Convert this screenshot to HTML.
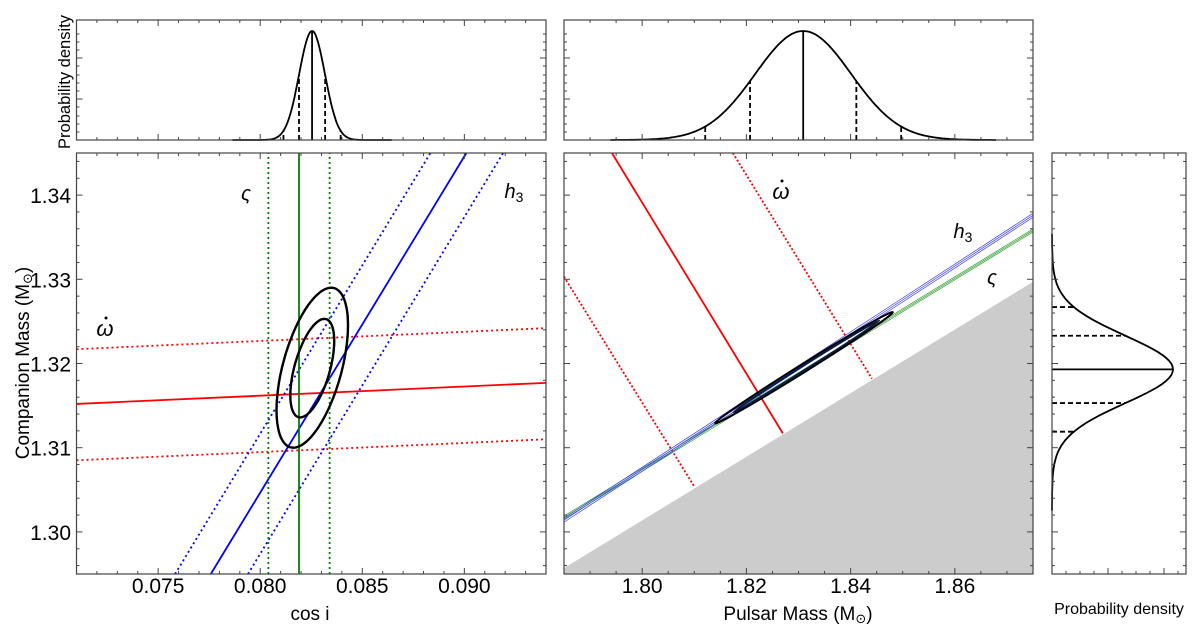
<!DOCTYPE html>
<html><head><meta charset="utf-8">
<style>
html,body{margin:0;padding:0;background:#fff;}
svg{display:block;font-family:"Liberation Sans","DejaVu Sans",sans-serif;}
</style></head>
<body>
<svg id="fig" width="1200" height="628" viewBox="0 0 1200 628" xmlns="http://www.w3.org/2000/svg">
</svg>
<script>
// ---- data ----
const leftXTicks = [0.075, 0.080, 0.085, 0.090];
const leftXTickLabels = ["0.075", "0.080", "0.085", "0.090"];
const yTicks = [1.30, 1.31, 1.32, 1.33, 1.34];
const yTickLabels = ["1.30", "1.31", "1.32", "1.33", "1.34"];
const rightXTicks = [1.80, 1.82, 1.84, 1.86];
const rightXTickLabels = ["1.80", "1.82", "1.84", "1.86"];
// left panel constraint lines [x1,y1,x2,y2] in data coordinates
const omdotCosi = [[0.071,1.3152,0.094,1.3177]];
const omdotCosiErr = [[0.071,1.3217,0.094,1.3242],[0.071,1.3085,0.094,1.3110]];
const h3Cosi = [[0.07758,1.295,0.0901,1.345]];
const h3CosiErr = [[0.07583,1.295,0.08834,1.345],[0.0794,1.295,0.0919,1.345]];
const zetaCosi = [0.0819];
const zetaCosiErr = [0.0804, 0.0834];
// left panel contours: cx, cy, sx, sy, rho
const contourCx = [0.08255, 0.08255];
const contourCy = [1.3195, 1.31945];
const contourSx = [0.00175, 0.001075];
const contourSy = [0.0095, 0.00585];
const contourRho = [0.53, 0.55];
// right panel
const excludedEdge = [1.785,1.2957,1.875,1.3297];
const omdotMp = [[1.7942,1.345,1.8270,1.3117]];
const omdotMpErr = [[1.785,1.3303,1.8101,1.3053],[1.8174,1.345,1.8441,1.3182]];
const h3Mp = [[1.785,1.3014,1.875,1.3376]];
const zetaMp = [[1.785,1.3017,1.875,1.3358]];
const contourMpEnds = [[1.814,1.3129,1.8481,1.3261],[1.8175,1.3142,1.8455,1.3251]];
// marginal PDFs
const cosiPdf = {c:0.08254, s:0.00063, inner:[-0.00064,0.00064], outer:[-0.0014,0.0014], span:0.0039};
const mpPdf = {c:1.8309, s:0.0092, inner:[-0.0102,0.0102], outer:[-0.0188,0.0188], span:0.037};
const mcPdf = {c:1.3193, s:0.0040, inner:[-0.0040,0.0040], outer:[-0.0074,0.0074], span:0.011};

// ---- layout ----
const L = {x0:76.5, x1:546, y0:153, y1:574};
const R = {x0:564, x1:1033, y0:153, y1:574};
const T = {y0:20, y1:140};
const S = {x0:1052, x1:1186};
const xmL=[0.071,0.094], xmR=[1.785,1.875], ym=[1.295,1.345];
const sxL=v=>L.x0+(v-xmL[0])/(xmL[1]-xmL[0])*(L.x1-L.x0);
const sxR=v=>R.x0+(v-xmR[0])/(xmR[1]-xmR[0])*(R.x1-R.x0);
const sy=v=>L.y1-(v-ym[0])/(ym[1]-ym[0])*(L.y1-L.y0);
const svg=document.getElementById('fig');
const NS="http://www.w3.org/2000/svg";
function mk(tag,attrs,parent){const e=document.createElementNS(NS,tag);for(const k in attrs)e.setAttribute(k,attrs[k]);(parent||svg).appendChild(e);return e;}
function grp(name){const g=mk('g',{});return g;}

const defs=mk('defs',{});
mk('rect',{x:L.x0,y:L.y0,width:L.x1-L.x0,height:L.y1-L.y0},mk('clipPath',{id:'cl'},defs));
mk('rect',{x:R.x0,y:R.y0,width:R.x1-R.x0,height:R.y1-R.y0},mk('clipPath',{id:'cr'},defs));

// ---- left main panel ----
const gl=grp('cosi-panel'); gl.setAttribute('clip-path','url(#cl)');
function line(g,sx,d,color,w,dash,name){const e=mk('line',{x1:sx(d[0]),y1:sy(d[1]),x2:sx(d[2]),y2:sy(d[3]),stroke:color,'stroke-width':w},g);if(dash)e.setAttribute('stroke-dasharray',dash);}
omdotCosi.forEach(d=>line(gl,sxL,d,'#ff0000',1.8,null,'omdot-line'));
omdotCosiErr.forEach(d=>line(gl,sxL,d,'#ff0000',1.8,'2 3','omdot-error-line'));
h3Cosi.forEach(d=>line(gl,sxL,d,'#0000ff',1.8,null,'h3-line'));
h3CosiErr.forEach(d=>line(gl,sxL,d,'#0000ff',1.8,'2 3','h3-error-line'));
zetaCosi.forEach(v=>line(gl,sxL,[v,ym[0],v,ym[1]],'#008000',1.8,null,'zeta-line'));
zetaCosiErr.forEach(v=>line(gl,sxL,[v,ym[0],v,ym[1]],'#008000',1.8,'2 3','zeta-error-line'));
contourCx.forEach((cx,i)=>{let pts=[];for(let k=0;k<=120;k++){const t=k/120*2*Math.PI;const x=cx+contourSx[i]*Math.cos(t);const y=contourCy[i]+contourSy[i]*(contourRho[i]*Math.cos(t)+Math.sqrt(1-contourRho[i]**2)*Math.sin(t));pts.push(sxL(x).toFixed(1)+','+sy(y).toFixed(1));}
const p=mk('polygon',{points:pts.join(' '),fill:'none',stroke:'#000','stroke-width':2.4},gl);});

// ---- right main panel ----
const gr=grp('pulsar-mass-panel'); gr.setAttribute('clip-path','url(#cr)');
const ex=mk('polygon',{points:`${sxR(excludedEdge[0])},${sy(excludedEdge[1])} ${sxR(excludedEdge[2])},${sy(excludedEdge[3])} ${R.x1},${R.y1} ${R.x0},${R.y1}`,fill:'#cccccc'},gr);

omdotMp.forEach(d=>line(gr,sxR,d,'#ff0000',1.8,null,'omdot-line'));
omdotMpErr.forEach(d=>line(gr,sxR,d,'#ff0000',1.8,'2 2','omdot-error-line'));
zetaMp.forEach(d=>{[-1.5,0,1.5].forEach(o=>{const e=mk('line',{x1:sxR(d[0]),y1:sy(d[1])+o,x2:sxR(d[2]),y2:sy(d[3])+o,stroke:'#2a9a2a','stroke-width':0.7},gr);});});
h3Mp.forEach(d=>{[-2,0,2].forEach(o=>{const e=mk('line',{x1:sxR(d[0]),y1:sy(d[1])+o,x2:sxR(d[2]),y2:sy(d[3])+o,stroke:'#3a3aff','stroke-width':0.7},gr);});});
contourMpEnds.forEach((d,i)=>{const x1=sxR(d[0]),y1=sy(d[1]),x2=sxR(d[2]),y2=sy(d[3]);const cx=(x1+x2)/2,cy=(y1+y2)/2;const len=Math.hypot(x2-x1,y2-y1)/2;const ang=Math.atan2(y2-y1,x2-x1)*180/Math.PI;
const e=mk('ellipse',{cx:cx,cy:cy,rx:len,ry:i==0?4:2.2,transform:`rotate(${ang} ${cx} ${cy})`,fill:'none',stroke:i==0?'#000':'#0a1a40','stroke-width':2},gr);});

// ---- marginal PDFs ----
function gauss(p,v){return Math.exp(-0.5*((v-p.c)/p.s)**2);}
function topPdf(p,sx,name){const g=grp(name);const base=T.y1, peak=31;const h=base-peak;let pts=[];for(let k=0;k<=200;k++){const v=p.c-p.span+2*p.span*k/200;pts.push(sx(v).toFixed(1)+','+(base-h*gauss(p,v)).toFixed(1));}
const c=mk('polyline',{points:pts.join(' '),fill:'none',stroke:'#000','stroke-width':1.8},g);
mk('line',{x1:sx(p.c),y1:base,x2:sx(p.c),y2:peak,stroke:'#000','stroke-width':1.8},g);
[...p.inner,...p.outer].forEach(o=>{const v=p.c+o;mk('line',{x1:sx(v),y1:base,x2:sx(v),y2:base-h*gauss(p,v),stroke:'#000','stroke-width':1.8,'stroke-dasharray':'5 3'},g);});}
topPdf(cosiPdf,sxL,'cosi-pdf');
topPdf(mpPdf,sxR,'pulsar-mass-pdf');
(function(){const p=mcPdf;const g=grp('companion-mass-pdf');const base=S.x0, peak=1173;const w=peak-base;let pts=[];const span=0.035;for(let k=0;k<=200;k++){const v=p.c-span+2*span*k/200;const yy=sy(v);if(yy<233||yy>512)continue;pts.push((base+w*gauss(p,v)).toFixed(1)+','+yy.toFixed(1));}
const c=mk('polyline',{points:pts.join(' '),fill:'none',stroke:'#000','stroke-width':1.8},g);
mk('line',{x1:base,y1:sy(p.c),x2:peak,y2:sy(p.c),stroke:'#000','stroke-width':1.8},g);
[...p.inner,...p.outer].forEach(o=>{const v=p.c+o;mk('line',{x1:base,y1:sy(v),x2:base+w*gauss(p,v),y2:sy(v),stroke:'#000','stroke-width':1.8,'stroke-dasharray':'5 3'},g);});})();

// ---- frames and ticks ----
const ax=grp('axes');
function frame(x0,y0,x1,y1,name){const r=mk('rect',{x:x0,y:y0,width:x1-x0,height:y1-y0,fill:'none',stroke:'#444','stroke-width':1.2},ax);}
function tickX(x,y0,y1,len){mk('line',{x1:x,y1:y0,x2:x,y2:y0+len,stroke:'#444','stroke-width':1},ax);mk('line',{x1:x,y1:y1,x2:x,y2:y1-len,stroke:'#444','stroke-width':1},ax);}
function tickY(y,x0,x1,len){mk('line',{x1:x0,y1:y,x2:x0+len,y2:y,stroke:'#444','stroke-width':1},ax);mk('line',{x1:x1,y1:y,x2:x1-len,y2:y,stroke:'#444','stroke-width':1},ax);}
for(let v=0.071;v<=0.0941;v+=0.001){const major=leftXTicks.some(t=>Math.abs(t-v)<1e-6);const x=sxL(v);tickX(x,L.y0,L.y1,major?6:3);tickX(x,T.y0,T.y1,major?6:3);}
for(let v=1.785;v<=1.8751;v+=0.005){const major=rightXTicks.some(t=>Math.abs(t-v)<1e-6);const x=sxR(v);tickX(x,R.y0,R.y1,major?6:3);tickX(x,T.y0,T.y1,major?6:3);}
for(let v=1.296;v<=1.345;v+=0.002){const major=yTicks.some(t=>Math.abs(t-v)<1e-6);const y=sy(v);tickY(y,L.x0,L.x1,major?6:3);tickY(y,R.x0,R.x1,major?6:3);tickY(y,S.x0,S.x1,major?6:3);}
[58,99].forEach(y=>{tickY(y,L.x0,L.x1,6);tickY(y,R.x0,R.x1,6);});
[34,42,50,66,75,83,91,107,116,124,132].forEach(y=>{tickY(y,L.x0,L.x1,3);tickY(y,R.x0,R.x1,3);});
[1066,1080,1094,1108,1122,1136,1150,1164,1178].forEach((x,i)=>{tickX(x,L.y0,L.y1,i%4==3?6:3);});
frame(L.x0,L.y0,L.x1,L.y1,'cosi-panel-frame');
frame(R.x0,R.y0,R.x1,R.y1,'pulsar-mass-panel-frame');
frame(L.x0,T.y0,L.x1,T.y1,'cosi-pdf-frame');
frame(R.x0,T.y0,R.x1,T.y1,'pulsar-mass-pdf-frame');
frame(S.x0,L.y0,S.x1,L.y1,'companion-mass-pdf-frame');

// ---- labels ----
function txt(x,y,s,size,name,extra){const t=mk('text',Object.assign({x:x,y:y,'font-size':size,fill:'#000','text-anchor':'middle'},extra||{}));t.textContent=s;return t;}
leftXTicks.forEach((v,i)=>txt(sxL(v),593,leftXTickLabels[i],21,'x-tick-label'));
rightXTicks.forEach((v,i)=>txt(sxR(v),593,rightXTickLabels[i],21,'x-tick-label'));
yTicks.forEach((v,i)=>txt(71,sy(v)+8,yTickLabels[i],21,'y-tick-label',{'text-anchor':'end'}));
txt(310,620,'cos i',19,'x-axis-title');
const pm=txt(798,620,'Pulsar Mass (M',19,'x-axis-title');const pms=mk('tspan',{'font-size':13,dy:3},pm);pms.textContent='⊙';const pme=mk('tspan',{dy:-3},pm);pme.textContent=')';
const cm=txt(0,0,'Companion Mass (M',19,'y-axis-title',{transform:'translate(29,363) rotate(-90)'});const cms=mk('tspan',{'font-size':13,dy:3},cm);cms.textContent='⊙';const cme=mk('tspan',{dy:-3},cm);cme.textContent=')';
txt(0,0,'Probability density',16.5,'pdf-axis-title',{transform:'translate(70,82) rotate(-90)'});
txt(1119,614,'Probability density',16,'pdf-axis-title');
txt(246,200,'ς',20,'zeta-label',{'font-style':'italic'});
const h=txt(514,198,'h',20,'h3-label',{'font-style':'italic'});const hs=mk('tspan',{'font-size':14,dy:4,'font-style':'normal'},h);hs.textContent='3';
function omega(x,y){const t=txt(x,y,'ω',22,'omdot-label',{'font-style':'italic'});const d=mk('circle',{cx:x+1,cy:y-18,r:1.5,fill:'#000'});}
omega(105,336);
omega(781,199);
const h2=txt(963,238,'h',20,'h3-label',{'font-style':'italic'});const h2s=mk('tspan',{'font-size':14,dy:4,'font-style':'normal'},h2);h2s.textContent='3';
txt(992,284,'ς',20,'zeta-label',{'font-style':'italic'});
</script>
</body></html>
